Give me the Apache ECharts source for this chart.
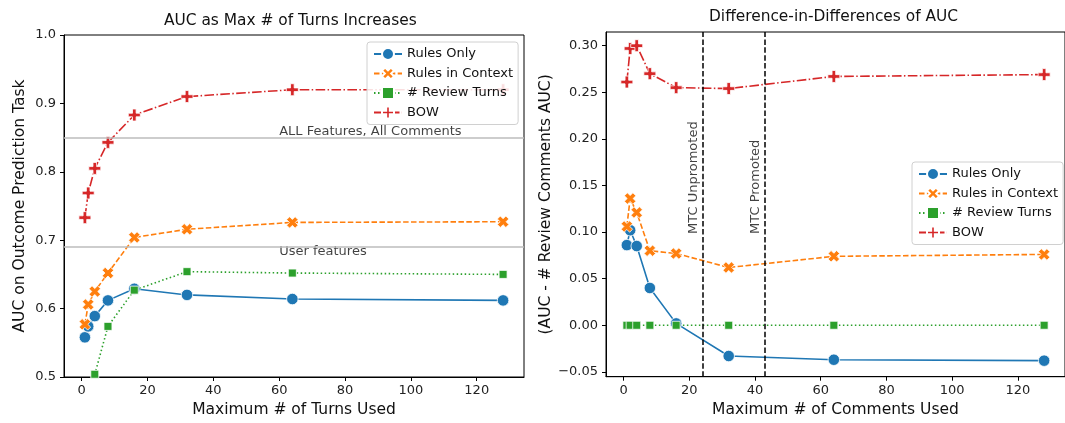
<!DOCTYPE html>
<html>
<head>
<meta charset="utf-8">
<script src="https://cdn.jsdelivr.net/npm/echarts@6/dist/echarts.min.js"></script>
<style>
html,body{margin:0;padding:0;background:#fff;}
#chart{width:1065px;height:423px;}
</style>
</head>
<body>
<div id="chart"></div>
<script>
// ---- data ----
const turns = [1, 2, 4, 8, 16, 32, 64, 128];
const seriesNames = ['Rules Only', 'Rules in Context', '# Review Turns', 'BOW'];
// left panel: AUC
const rulesOnlyAUC    = [0.558, 0.574, 0.589, 0.612, 0.629, 0.620, 0.614, 0.612];
const rulesContextAUC = [0.577, 0.606, 0.625, 0.652, 0.704, 0.716, 0.726, 0.727];
const reviewTurnsAUC  = [null, null, 0.504, 0.574, 0.627, 0.654, 0.652, 0.650];
const bowAUC          = [0.733, 0.769, 0.805, 0.843, 0.883, 0.910, 0.920, 0.920];
// right panel: difference-in-differences
const rulesOnlyDiD    = [0.086, 0.102, 0.085, 0.040, 0.002, -0.033, -0.037, -0.038];
const rulesContextDiD = [0.106, 0.136, 0.121, 0.080, 0.077, 0.062, 0.074, 0.076];
const reviewTurnsDiD  = [0, 0, 0, 0, 0, 0, 0, 0];
const bowDiD          = [0.261, 0.297, 0.300, 0.270, 0.255, 0.254, 0.267, 0.269];
// reference lines / annotations
const allFeaturesAUC = 0.847;
const userFeaturesAUC = 0.693;
const refLabelX = 60;
const mtcLines = [24, 43];
const mtcLabels = ['MTC Unpromoted', 'MTC Promoted'];
const mtcLabelY = 0.098;
const mtcLabelShift = 2.7;
// ticks
const xTicks = [0, 20, 40, 60, 80, 100, 120];
const yTicksLeft = [0.5, 0.6, 0.7, 0.8, 0.9, 1.0];
const yTicksRight = [-0.05, 0, 0.05, 0.10, 0.15, 0.20, 0.25, 0.30];

// ---- style ----
const FONT = 'DejaVu Sans';
const colors = ['#1f77b4', '#ff7f0e', '#2ca02c', '#d62728'];
const symX = 'path://M0,2.6 L2.6,0 L5,2.4 L7.4,0 L10,2.6 L7.6,5 L10,7.4 L7.4,10 L5,7.6 L2.6,10 L0,7.4 L2.4,5 Z';
const symP = 'path://M3.5,0 H6.5 V3.5 H10 V6.5 H6.5 V10 H3.5 V6.5 H0 V3.5 H3.5 Z';
const symbols = ['circle', symX, 'rect', symP];
const symbolSizes = [11.5, 11.5, 8, 12];
const lineTypes = ['solid', [5.5, 2.4], [1.5, 2.5], [9.6, 2.4, 1.5, 2.4]];

function pairs(ys) {
  const out = [];
  ys.forEach((y, i) => { if (y !== null) out.push([turns[i], y]); });
  return out;
}

function makeSeries(idx, ys, gi) {
  return {
    type: 'line',
    name: seriesNames[idx],
    xAxisIndex: gi, yAxisIndex: gi,
    data: pairs(ys),
    symbol: symbols[idx],
    symbolSize: symbolSizes[idx],
    showAllSymbol: true,
    z: 2,
    lineStyle: { color: colors[idx], width: 1.6, type: lineTypes[idx], cap: 'butt' },
    itemStyle: { color: colors[idx], borderColor: '#fff', borderWidth: 0.8, opacity: 1 },
    emphasis: { disabled: true },
    animation: false
  };
}

const axisCommon = {
  axisLine: { show: true, onZero: false, lineStyle: { color: '#000', width: 1 } },
  axisTick: { show: true, length: 4, lineStyle: { color: '#000', width: 1 } },
  splitLine: { show: false },
  nameTextStyle: { fontFamily: FONT, fontSize: 15.5, color: '#111' }
};

function xAxis(gi, name) {
  return Object.assign({}, axisCommon, {
    type: 'value', gridIndex: gi, min: -5.35, max: 134.35,
    name: name, nameLocation: 'middle', nameGap: 25,
    axisTick: Object.assign({}, axisCommon.axisTick, { customValues: xTicks }),
    axisLabel: { customValues: xTicks, margin: 7, fontFamily: FONT, fontSize: 13, color: '#222',
      formatter: v => String(Math.round(v)) }
  });
}

function yAxis(gi, name, min, max, ticks, dec, gap) {
  return Object.assign({}, axisCommon, {
    type: 'value', gridIndex: gi, min: min, max: max,
    name: name, nameLocation: 'middle', nameGap: gap,
    axisTick: Object.assign({}, axisCommon.axisTick, { customValues: ticks }),
    axisLabel: { customValues: ticks, margin: 8, fontFamily: FONT, fontSize: 13, color: '#222',
      formatter: v => (Math.abs(v) < 1e-9 ? 0 : v).toFixed(dec).replace('-', '\u2212') }
  });
}

function legend(left, top) {
  return {
    orient: 'vertical', left: left, top: top, z: 10,
    data: seriesNames,
    selectedMode: false,
    itemWidth: 28, itemHeight: 15, itemGap: 5.5,
    padding: [5, 5, 5, 6],
    backgroundColor: 'rgba(255,255,255,0.85)',
    borderColor: '#d0d0d0', borderWidth: 1, borderRadius: 3,
    textStyle: { fontFamily: FONT, fontSize: 13, color: '#111' }
  };
}

const leftSeries = [
  makeSeries(0, rulesOnlyAUC, 0),
  makeSeries(1, rulesContextAUC, 0),
  makeSeries(2, reviewTurnsAUC, 0),
  makeSeries(3, bowAUC, 0)
];
leftSeries[0].markLine = {
  silent: true, symbol: 'none', animation: false,
  label: { show: false },
  lineStyle: { color: '#bdbdbd', width: 1.5, type: 'solid' },
  data: [{ yAxis: allFeaturesAUC }, { yAxis: userFeaturesAUC }]
};
const rightSeries = [
  makeSeries(0, rulesOnlyDiD, 1),
  makeSeries(1, rulesContextDiD, 1),
  makeSeries(2, reviewTurnsDiD, 1),
  makeSeries(3, bowDiD, 1)
];
rightSeries[0].markLine = {
  silent: true, symbol: 'none', animation: false,
  label: { show: false },
  lineStyle: { color: '#000', width: 1.5, type: [5.5, 2.4] },
  data: mtcLines.map(v => ({ xAxis: v }))
};

const textSeries = [
  {
    type: 'scatter', xAxisIndex: 0, yAxisIndex: 0, symbolSize: 0, silent: true, animation: false,
    data: [
      { value: [refLabelX, allFeaturesAUC], label: { formatter: 'ALL Features, All Comments', verticalAlign: 'bottom', offset: [0, -2] } },
      { value: [refLabelX, userFeaturesAUC], label: { formatter: 'User features', verticalAlign: 'top', offset: [0, 0] } }
    ],
    label: { show: true, position: 'inside', align: 'left', fontFamily: FONT, fontSize: 13, color: '#111' }
  },
  {
    type: 'scatter', xAxisIndex: 1, yAxisIndex: 1, symbolSize: 0, silent: true, animation: false,
    data: mtcLines.map((v, i) => ({ value: [v - mtcLabelShift, mtcLabelY], label: { formatter: mtcLabels[i] } })),
    label: { show: true, position: 'inside', rotate: 90, align: 'left', verticalAlign: 'middle',
      fontFamily: FONT, fontSize: 13, color: '#111' }
  }
];

const option = {
  animation: false,
  backgroundColor: '#fff',
  title: [
    { text: 'AUC as Max # of Turns Increases', left: 159, top: 8,
      textStyle: { fontFamily: FONT, fontSize: 15.4, fontWeight: 'normal', color: '#111' } },
    { text: 'Difference-in-Differences of AUC', left: 704, top: 4,
      textStyle: { fontFamily: FONT, fontSize: 15.4, fontWeight: 'normal', color: '#111' } }
  ],
  grid: [
    { left: 64, right: 541, top: 35, bottom: 45.3, show: true, borderColor: '#000', borderWidth: 1, backgroundColor: 'transparent' },
    { left: 606, right: -4.8, top: 32, bottom: 46.3, show: true, borderColor: '#000', borderWidth: 1, backgroundColor: 'transparent' }
  ],
  xAxis: [xAxis(0, 'Maximum # of Turns Used'), xAxis(1, 'Maximum # of Comments Used')],
  yAxis: [
    yAxis(0, 'AUC on Outcome Prediction Task', 0.5, 1.0, yTicksLeft, 1, 36),
    yAxis(1, '(AUC - # Review Comments AUC)', -0.0552, 0.3147, yTicksRight, 2, 52)
  ],
  legend: [legend(367, 42), legend(912, 162)],
  series: leftSeries.concat(rightSeries, textSeries)
};

const chart = echarts.init(document.getElementById('chart'), null, { renderer: 'canvas' });
chart.setOption(option);
</script>
</body>
</html>
